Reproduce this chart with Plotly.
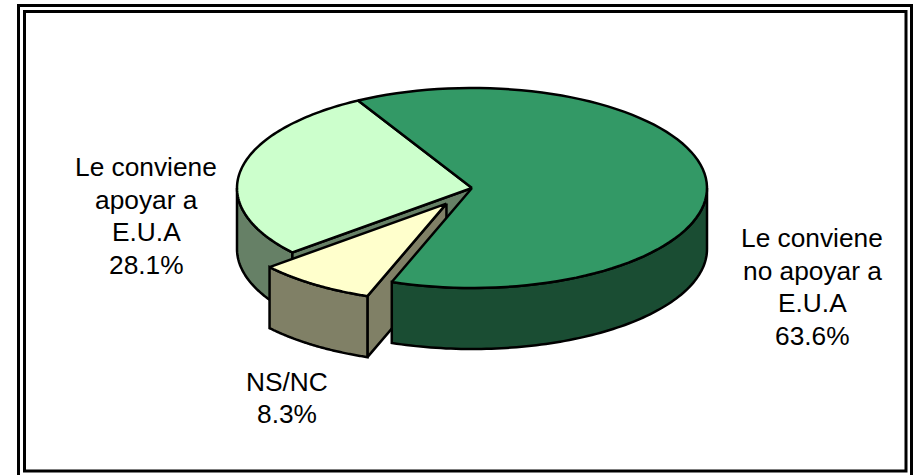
import numpy as np
import plotly.graph_objects as go

# Data
categories = [["Le conviene", "no apoyar a", "E.U.A"], ["NS/NC"], ["Le conviene", "apoyar a", "E.U.A"]]
values = [63.6, 8.3, 28.1]
top_colors = ["#339966", "#FFFFCC", "#CCFFCC"]
side_colors = ["#1A4D33", "#808066", "#668066"]
label_x = [812, 287, 146]
label_y = [238, 381.5, 167]
LINE_STEP = 32.5

# Pie projection (pixels)
CX, CY, RX, RY, DEPTH = 472, 188, 235, 100, 61
START = -29.0
EXPLODE = [0, 0.19, 0]
SCALE = [1, 0.985, 1]


def pt(a, cx, cy, s=1.0, dz=0):
    r = np.radians(a)
    return cx + s * RX * np.sin(r), cy - s * RY * np.cos(r) + dz


def arc(a0, a1, cx, cy, s=1.0, dz=0):
    return pt(np.linspace(a0, a1, 90), cx, cy, s, dz)


fig = go.Figure()


def poly(x, y, color):
    fig.add_trace(go.Scatter(
        x=list(x) + [x[0]], y=list(y) + [y[0]], mode="lines", fill="toself",
        fillcolor=color, line=dict(color="black", width=2.5, simplify=False),
        hoverinfo="skip", showlegend=False))


def outer_wall(a0, a1, cx, cy, s, color):
    x0, y0 = arc(a0, a1, cx, cy, s)
    x1, y1 = arc(a1, a0, cx, cy, s, DEPTH)
    poly(np.r_[x0, x1], np.r_[y0, y1], color)


def cut_wall(a, cx, cy, s, color):
    x, y = pt(a, cx, cy, s)
    poly([cx, x, x, cx], [cy, y, y + DEPTH, cy + DEPTH], color)


def top(a0, a1, cx, cy, s, color):
    x, y = arc(a0, a1, cx, cy, s)
    poly(np.r_[cx, x], np.r_[cy, y], color)


# slice angular extents, clockwise from START
edges = START + np.r_[0, np.cumsum(values)] * 3.6
a_green = edges[0], edges[1]
a_cream = edges[1], edges[2]
a_light = edges[2], edges[3]
mid = np.radians(sum(a_cream) / 2)
ecx = CX + EXPLODE[1] * RX * np.sin(mid)
ecy = CY - EXPLODE[1] * RY * np.cos(mid)

# painter's order
outer_wall(a_light[0], 270, CX, CY, 1, side_colors[2])
cut_wall(a_light[0], CX, CY, 1, side_colors[2])
top(a_light[0], a_light[1], CX, CY, 1, top_colors[2])
cut_wall(a_cream[0], ecx, ecy, SCALE[1], side_colors[1])
outer_wall(90, a_green[1], CX, CY, 1, side_colors[0])
top(a_green[0], a_green[1], CX, CY, 1, top_colors[0])
outer_wall(a_cream[0], a_cream[1], ecx, ecy, SCALE[1], side_colors[1])
top(a_cream[0], a_cream[1], ecx, ecy, SCALE[1], top_colors[1])

for lines, v, lx, ly in zip(categories, values, label_x, label_y):
    for i, t in enumerate(lines + [f"{v:.1f}%"]):
        fig.add_annotation(x=lx, y=ly + i * LINE_STEP, text=t, showarrow=False,
                           font=dict(family="Liberation Sans", size=26.3, color="black"),
                           align="center", xanchor="center", yanchor="middle")

frame = dict(type="rect", line=dict(color="black", width=3), fillcolor="rgba(0,0,0,0)", layer="above")
fig.add_shape(x0=18.5, y0=5.5, x1=911.5, y1=480, **frame)
fig.add_shape(x0=24.5, y0=11.5, x1=906, y1=471, **frame)

fig.update_layout(
    width=917, height=475, margin=dict(l=0, r=0, t=0, b=0),
    paper_bgcolor="white", plot_bgcolor="white", showlegend=False,
    xaxis=dict(range=[0, 917], visible=False, fixedrange=True),
    yaxis=dict(range=[475, 0], visible=False, fixedrange=True),
)
fig.write_html("out.html", config={"displayModeBar": False},
               post_script="document.body.style.margin='0';document.body.style.overflow='hidden';")
